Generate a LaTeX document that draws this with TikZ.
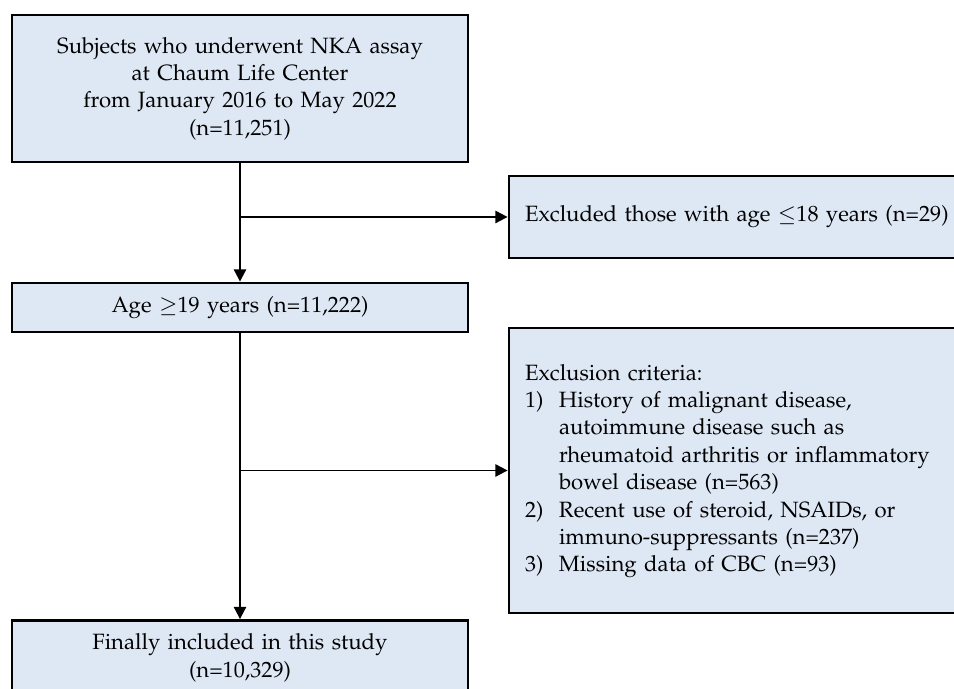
\documentclass[tikz,border=0pt]{standalone}
\usepackage[T1]{fontenc}
\usepackage{mathpazo}
\usepackage{xcolor}
\usepackage{tikz}
\definecolor{boxblue}{RGB}{222, 232, 245}
\usetikzlibrary{arrows.meta,positioning,calc}

\begin{document}
\begin{tikzpicture}[
    mainbox/.style={rectangle, draw, fill=boxblue, line width=1.6pt, text width=8.5cm, inner xsep=0.31cm, align=center, font=\fontsize{12.6}{15.6}\selectfont},
    sidebox/.style={rectangle, draw, fill=boxblue, line width=1.6pt, text width=9cm, inner xsep=0.32cm, align=left, font=\fontsize{12.6}{15.6}\selectfont},
    flow/.style={line width=1.1pt, -{Triangle[length=7pt, width=7pt]}},
    branch/.style={line width=1.1pt}
]
    \useasboundingbox (0,0) rectangle (19.08,13.78);
    \clip (0,0) rectangle (19.08,13.78);

    \node[mainbox, minimum height=2.94cm] (subjects) at (4.8,12.01) {
        Subjects who underwent NKA assay\\
        at Chaum Life Center\\
        from January 2016 to May 2022\\
        (n=11,251)
    };

    \node[mainbox, minimum height=0.98cm] (adults) at (4.8,7.63) {
        Age $\geq$19 years (n=11,222)
    };

    \node[mainbox, minimum height=1.5cm] (final) at (4.8,0.62) {
        Finally included in this study\\
        (n=10,329)
    };

    \node[sidebox, minimum height=1.64cm] (minors) at (15.0,9.44) {
        Excluded those with age $\leq$18 years (n=29)
    };

    \node[sidebox, minimum height=5.7cm] (criteria) at (15.0,4.37) {
        \begin{tabular}{@{}p{0.68cm}@{}l@{}}
            \multicolumn{2}{@{}l@{}}{Exclusion criteria:}\\
            1) & History of malignant disease,\\
               & autoimmune disease such as\\
               & rheumatoid arthritis or inflammatory\\
               & bowel disease (n=563)\\
            2) & Recent use of steroid, NSAIDs, or\\
               & immuno-suppressants (n=237)\\
            3) & Missing data of CBC (n=93)
        \end{tabular}
    };

    % Flow arrows
    \draw[flow] (subjects.south) -- (adults.north);
    \draw[flow] (adults.south) -- (final.north);
    \coordinate (split1) at (subjects.south |- minors.west);
    \coordinate (split2) at (adults.south |- criteria.west);
    \draw[flow] (split1) -- (minors.west);
    \draw[flow] (split2) -- (criteria.west);
\end{tikzpicture}
\end{document}
